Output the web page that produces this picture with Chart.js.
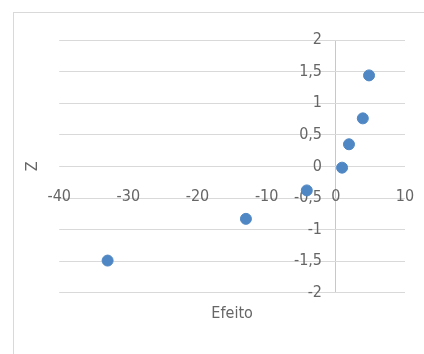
<!DOCTYPE html>
<html>
<head>
<meta charset="utf-8">
<script src="https://cdn.jsdelivr.net/npm/chart.js@4"></script>
<style>
    body { margin: 0; background: #ffffff; }
    #wrap { position: relative; width: 424px; height: 354px; overflow: hidden; }
    #frame { position: absolute; left: 13px; top: 12px; width: 500px; height: 500px; border: 1px solid #d9d9d9; }
    #effect_chart { position: absolute; left: 0; top: 0; }
</style>
</head>
<body>
<div id="wrap">
    <div id="frame"></div>
    <canvas id="effect_chart" width="424" height="354"></canvas>
</div>
<script>
var efeito = [-33, -13, -4.2, 0.9, 1.9, 3.9, 4.8]; // x values
var z_values = [-1.49, -0.83, -0.38, -0.02, 0.35, 0.76, 1.44]; // y values
var x_ticks = [-40, -30, -20, -10, 0, 10];
var y_ticks = [-2, -1.5, -1, -0.5, 0, 0.5, 1, 1.5, 2];

var font_family = "'Liberation Sans Narrow', 'DejaVu Sans Condensed', 'Liberation Sans', sans-serif";

function make_scatter_chart(xValues, yValues){
    let points = [];
    for (let i = 0; i < xValues.length; i++) {
        points.push({x: xValues[i], y: yValues[i]});
    }

    new Chart(document.getElementById("effect_chart"), {
        type: "scatter",
        data: {
            datasets: [{
                label: "Z",
                data: points,
                backgroundColor: "#4f87c4",
                borderColor: "#4f87c4",
                pointRadius: 5.5,
                pointHoverRadius: 5.5
            }]
        },
        options: {
            responsive: false,
            animation: false,
            layout: {
                padding: {left: 14, top: 40, right: 19, bottom: 31}
            },
            plugins: {
                legend: { display: false },
                tooltip: { enabled: false },
                title: {
                    display: true,
                    text: "Efeito",
                    position: "bottom",
                    fullSize: false,
                    color: "#666666",
                    font: { family: font_family, size: 16, weight: "normal" },
                    padding: {top: 11, bottom: 0}
                },
                subtitle: {
                    display: true,
                    text: "Z",
                    position: "left",
                    fullSize: false,
                    color: "#666666",
                    font: { family: font_family, size: 16, weight: "normal" },
                    padding: {top: 9, bottom: 17}
                }
            },
            scales: {
                x: {
                    type: "linear",
                    min: x_ticks[0],
                    max: x_ticks[x_ticks.length - 1],
                    position: {y: 0},
                    afterBuildTicks: function(scale) {
                        scale.ticks = x_ticks.map(function(v){ return {value: v}; });
                    },
                    // tick padding would otherwise push the plot in from the right
                    afterFit: function(scale) {
                        scale.paddingLeft = 0;
                        scale.paddingRight = 0;
                    },
                    border: { display: false },
                    grid: {
                        drawTicks: false,
                        // only the line at x = 0 (the vertical axis)
                        color: function(ctx) {
                            return (ctx.tick && ctx.tick.value === 0) ? "#c8c8c8" : "rgba(0,0,0,0)";
                        }
                    },
                    ticks: {
                        padding: 21,
                        color: "#666666",
                        font: { family: font_family, size: 16 }
                    }
                },
                y: {
                    type: "linear",
                    min: y_ticks[0],
                    max: y_ticks[y_ticks.length - 1],
                    position: {x: -2},
                    afterBuildTicks: function(scale) {
                        scale.ticks = y_ticks.map(function(v){ return {value: v}; });
                    },
                    border: { display: false },
                    grid: {
                        drawTicks: false,
                        color: "#d9d9d9"
                    },
                    ticks: {
                        color: "#666666",
                        font: { family: font_family, size: 16 },
                        callback: function(value) {
                            return String(value).replace(".", ",");
                        }
                    }
                }
            }
        }
    });
}

make_scatter_chart(efeito, z_values);
</script>
</body>
</html>
